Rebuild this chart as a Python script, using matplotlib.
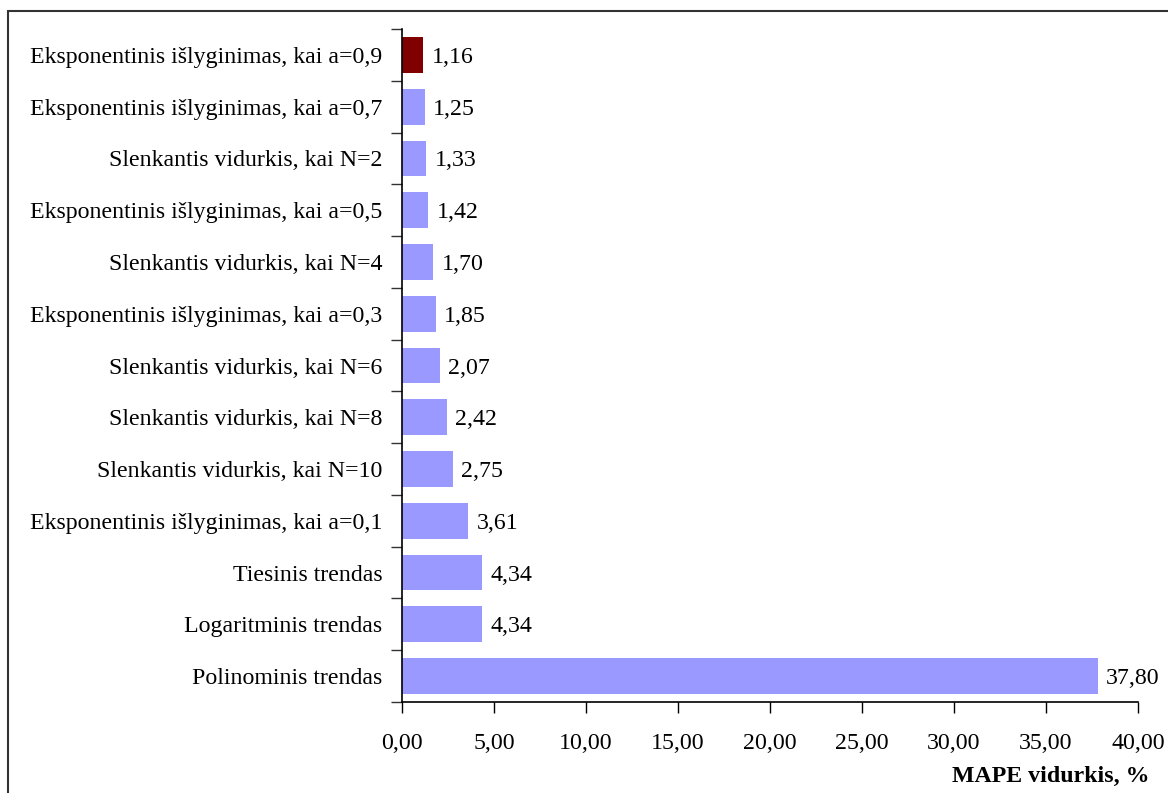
import matplotlib
matplotlib.use("Agg")
import matplotlib.pyplot as plt
from matplotlib.patches import Rectangle
from matplotlib.ticker import FixedLocator

plt.rcParams['font.family'] = ['Liberation Serif', 'DejaVu Serif']

methods = [
    "Eksponentinis išlyginimas, kai a=0,9",
    "Eksponentinis išlyginimas, kai a=0,7",
    "Slenkantis vidurkis, kai N=2",
    "Eksponentinis išlyginimas, kai a=0,5",
    "Slenkantis vidurkis, kai N=4",
    "Eksponentinis išlyginimas, kai a=0,3",
    "Slenkantis vidurkis, kai N=6",
    "Slenkantis vidurkis, kai N=8",
    "Slenkantis vidurkis, kai N=10",
    "Eksponentinis išlyginimas, kai a=0,1",
    "Tiesinis trendas",
    "Logaritminis trendas",
    "Polinominis trendas",
]
mape = [1.16, 1.25, 1.33, 1.42, 1.70, 1.85, 2.07, 2.42, 2.75, 3.61, 4.34, 4.34, 37.80]
x_ticks = [0, 5, 10, 15, 20, 25, 30, 35, 40]

FS = 17.2
W, H = 1168, 793
fig = plt.figure(figsize=(W / 100, H / 100), dpi=100)
ax = fig.add_axes([402 / W, 1 - 702 / H, (1138 - 402) / W, (702 - 29) / H])

n = len(methods)
ypos = list(range(n))
colors = ["#800000"] + ["#9999FF"] * (n - 1)
ax.barh(ypos, mape, height=0.69, color=colors, edgecolor="none", zorder=2)

for y, v in zip(ypos, mape):
    ax.text(v + 0.45, y, f"{v:.2f}".replace(".", ","), va="center_baseline", ha="left",
            fontsize=FS, color="black")

ax.set_ylim(n - 0.5, -0.5)
ax.set_xlim(0, 40)
ax.set_yticks(ypos)
ax.set_yticklabels(methods, fontsize=FS, va="center_baseline")
ax.yaxis.set_minor_locator(FixedLocator([i - 0.5 for i in range(n + 1)]))
ax.tick_params(axis="y", which="major", length=0, pad=14)
ax.tick_params(axis="y", which="minor", length=8, width=1, direction="out", color="#333333")

ax.set_xticks(x_ticks)
ax.set_xticklabels([f"{t:.2f}".replace(".", ",") for t in x_ticks], fontsize=FS)
ax.tick_params(axis="x", which="major", length=8, width=1, direction="out", pad=14)

for s in ("top", "right"):
    ax.spines[s].set_visible(False)
for s in ("left", "bottom"):
    ax.spines[s].set_linewidth(1.2)

fig.text(1150 / W, 1 - 776 / H, "MAPE vidurkis, %", ha="right", va="center",
         fontsize=FS, fontweight="bold")

fig.patches.append(Rectangle((8 / W, -0.05), 1.2, 1 - 10.5 / H + 0.05,
                             transform=fig.transFigure, fill=False,
                             edgecolor="#333333", linewidth=1.5))

fig.savefig("out.png", dpi=100)
